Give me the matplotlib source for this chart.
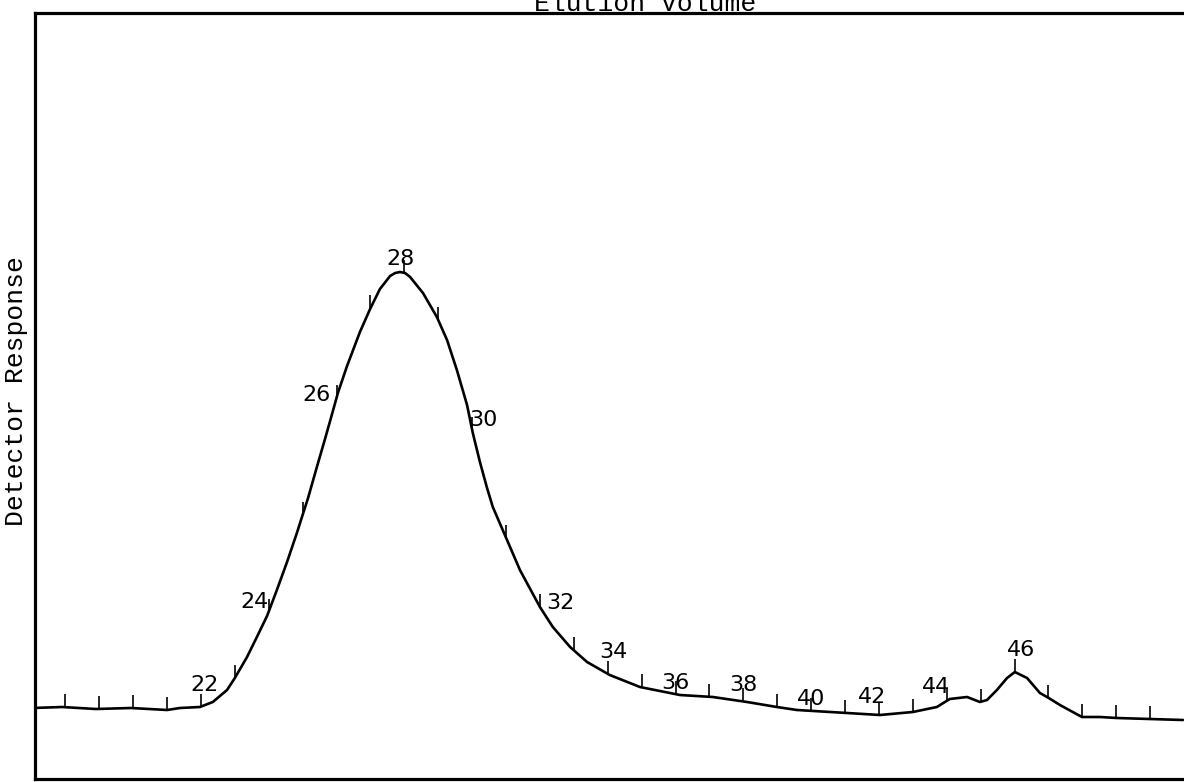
import numpy as np
import matplotlib
matplotlib.use("Agg")
import matplotlib.pyplot as plt

# Chromatogram trace: elution volume (mL) vs detector response (arbitrary units)
volume = [17.04, 17.90, 18.90, 19.94, 21.00, 21.38, 21.97, 22.35, 22.77, 23.00,
          23.36, 23.65, 23.95, 24.24, 24.54, 24.83, 24.98, 25.16, 25.42, 25.66,
          25.81, 26.04, 26.31, 26.69, 26.99, 27.28, 27.58, 27.73, 27.87, 28.02,
          28.17, 28.55, 28.96, 29.26, 29.55, 29.85, 30.02, 30.23, 30.44, 30.61,
          31.03, 31.41, 32.00, 32.38, 32.89, 33.39, 34.06, 34.95, 36.13, 37.10,
          38.11, 38.99, 39.58, 41.06, 42.03, 43.00, 43.71, 44.09, 44.60, 44.98,
          45.19, 45.48, 45.78, 46.01, 46.37, 46.75, 46.96, 47.34, 47.99, 48.52,
          49.02, 49.99, 50.97]
response = [70, 71, 69, 70, 68, 70, 71, 76, 88, 100,
            121, 141, 162, 188, 216, 245, 261, 280, 311, 339,
            357, 385, 412, 446, 469, 489, 502, 505, 506, 505,
            501, 485, 461, 438, 408, 373, 345, 316, 290, 271,
            238, 208, 171, 151, 131, 116, 103, 91, 83, 81,
            76, 71, 68, 65, 63, 66, 71, 79, 81, 76,
            78, 88, 100, 106, 100, 85, 81, 73, 61, 61,
            60, 59, 58]

# Fraction marks every 1 mL, numbered every 2 mL
mark_volumes = list(range(18, 51))
labelled_volumes = [22, 24, 26, 28, 30, 32, 34, 36, 38, 40, 42, 44, 46]

# label offsets from the mark (pixels)
label_offsets = {22: (4, 22), 24: (-14, 10), 26: (-20, 3), 28: (-4, 14),
                 30: (11, 10), 32: (20, 4), 34: (6, 22), 36: (0, 11),
                 38: (0, 16), 40: (0, 12), 42: (-7, 18), 44: (-11, 14),
                 46: (7, 22)}

W, H = 1184, 782
fig = plt.figure(figsize=(W / 100, H / 100), dpi=100)
left_px, right_px, top_px, bottom_px = 34.5, 1184, 12.5, 778.5
ax = fig.add_axes([left_px / W, (H - bottom_px) / H,
                   (right_px - left_px) / W, (bottom_px - top_px) / H])

ax.plot(volume, response, color="black", lw=1.9, solid_joinstyle="round",
        solid_capstyle="round")

vol = np.array(volume)
resp = np.array(response)
base = np.interp(mark_volumes, vol, resp)
ax.vlines(mark_volumes, base, base + 13, color="black", lw=1.2)

for v in labelled_volumes:
    y = np.interp(v, vol, resp)
    dx, dy = label_offsets[v]
    ax.annotate(str(v), (v, y), xytext=(dx, dy), textcoords="offset pixels",
                ha="center", va="center", fontsize=16, family="DejaVu Sans",
                color="black")

ax.set_xlim(17.09, 51.0)
ax.set_ylim(-0.5, 765.5)
ax.set_xticks([])
ax.set_yticks([])
ax.spines["right"].set_visible(False)
for s in ("left", "top", "bottom"):
    ax.spines[s].set_linewidth(2.3)

fig.text(645 / W, 1 - 11 / H, "Elution Volume", ha="center", va="baseline",
         fontsize=19, family="Liberation Mono", color="black")
fig.text(16 / W, 1 - 391 / H, "Detector Response", rotation=90, ha="center",
         va="center", fontsize=19, family="Liberation Mono", color="black")

fig.savefig("out.png", dpi=100, facecolor="white")
